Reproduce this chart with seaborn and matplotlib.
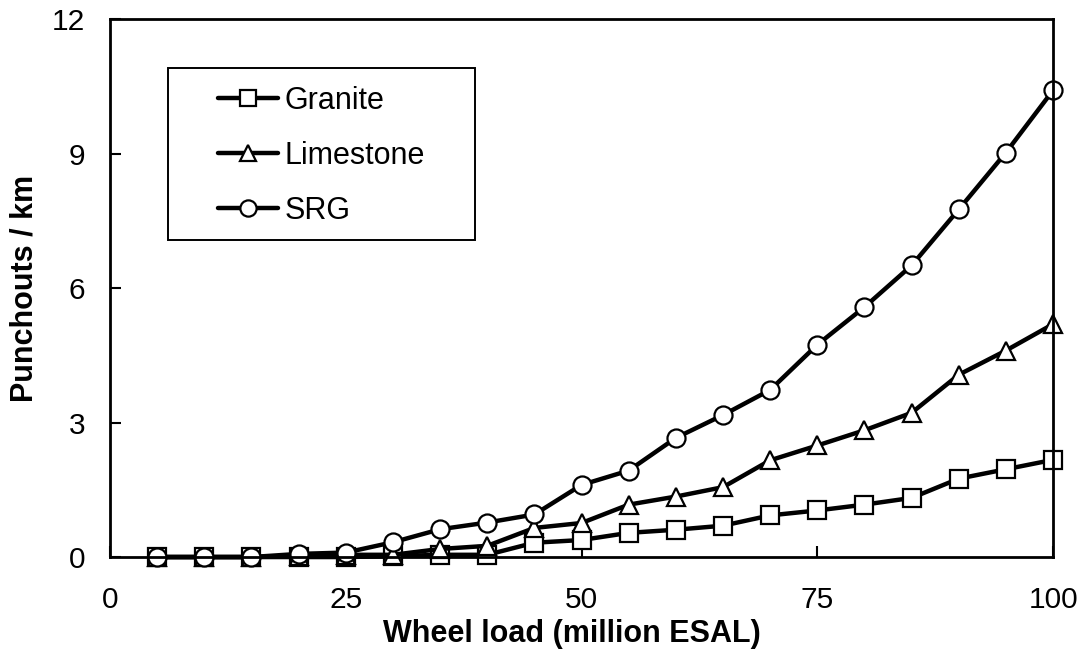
import matplotlib
matplotlib.use('Agg')
import matplotlib.pyplot as plt
from matplotlib.patches import Rectangle
import seaborn as sns
import pandas as pd

sns.set_style('white')
plt.rcParams['font.family'] = ['Liberation Sans', 'DejaVu Sans']
plt.rcParams['text.color'] = 'black'
plt.rcParams['axes.labelcolor'] = 'black'
plt.rcParams['xtick.color'] = 'black'
plt.rcParams['ytick.color'] = 'black'

# wheel load (million ESAL)
loads = [5, 10, 15, 20, 25, 30, 35, 40, 45, 50, 55, 60, 65, 70, 75, 80, 85, 90, 95, 100]

granite = [0, 0, 0, 0, 0, 0.02, 0.05, 0.05, 0.32, 0.38, 0.54, 0.61, 0.70, 0.93,
           1.04, 1.17, 1.32, 1.75, 1.96, 2.17]
limestone = [0, 0, 0, 0.03, 0.05, 0.05, 0.18, 0.25, 0.65, 0.76, 1.17, 1.35, 1.56,
             2.16, 2.49, 2.83, 3.22, 4.07, 4.61, 5.20]
srg = [0, 0, 0, 0.07, 0.10, 0.33, 0.62, 0.77, 0.95, 1.61, 1.93, 2.66, 3.17, 3.73,
       4.74, 5.58, 6.51, 7.76, 9.03, 10.42]

materials = ['Granite', 'Limestone', 'SRG']
series = {'Granite': granite, 'Limestone': limestone, 'SRG': srg}
marker_map = {'Granite': 's', 'Limestone': '^', 'SRG': 'o'}

df = pd.concat([pd.DataFrame({'load': loads, 'punchouts': series[m], 'material': m})
                for m in materials], ignore_index=True)

fig = plt.figure(figsize=(10.84, 6.6), dpi=100)
ax = fig.add_axes([0.1015, 0.156, 0.870, 0.8145])

sns.lineplot(data=df, x='load', y='punchouts', hue='material', style='material',
             hue_order=materials, style_order=materials,
             palette={m: 'black' for m in materials}, markers=marker_map, dashes=False,
             linewidth=3.2, markersize=13, markerfacecolor='white', markeredgecolor='black',
             markeredgewidth=1.6, legend=False, ax=ax, clip_on=False)

for line in ax.get_lines():
    line.set_markerfacecolor('white')
    line.set_markeredgecolor('black')

# legend frame drawn separately so the padding matches the original
ax.add_patch(Rectangle((0.0615, 0.590), 0.3256, 0.3198, transform=ax.transAxes,
                       facecolor='white', edgecolor='black', linewidth=1.4, zorder=5))
handles = ax.get_lines()[:3]
leg = ax.legend(handles, materials, loc='upper left', bbox_to_anchor=(0.1145, 0.8767),
                borderaxespad=0, borderpad=0, fontsize=22, frameon=False,
                handlelength=1.96, handletextpad=0.23, labelspacing=0.82,
                markerscale=0.9)
leg.set_zorder(6)
for h in leg.legend_handles:
    h.set_markerfacecolor('white')

ax.set_xlim(0, 100)
ax.set_ylim(0, 12)
ax.set_xticks([0, 25, 50, 75, 100])
ax.set_yticks([0, 3, 6, 9, 12])
ax.tick_params(direction='in', length=8, width=1.5, labelsize=21.5,
               bottom=True, left=True, top=False, right=False)
ax.tick_params(axis='y', pad=18)
ax.tick_params(axis='x', pad=21)

for sp in ax.spines.values():
    sp.set_color('black')
    sp.set_linewidth(2)

ax.set_xlabel('Wheel load (million ESAL)', fontsize=22, fontweight='bold')
ax.set_ylabel('Punchouts / km', fontsize=22, fontweight='bold')
ax.xaxis.set_label_coords(0.49, -0.116)
ax.yaxis.set_label_coords(-0.0753, 0.5)

fig.savefig('out.png', dpi=100)
